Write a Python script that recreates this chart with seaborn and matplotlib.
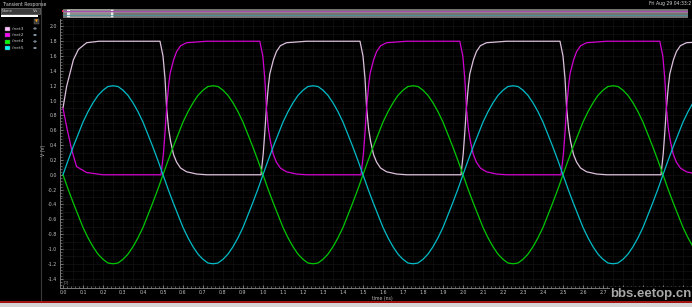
import numpy as np
import pandas as pd
import matplotlib
matplotlib.use("Agg")
import matplotlib.pyplot as plt
from matplotlib.ticker import MultipleLocator
from matplotlib.patches import Rectangle, Ellipse
from matplotlib.lines import Line2D
import seaborn as sns

# ---------------- data ----------------
t_sin = [0.000, 0.025, 0.050, 0.075, 0.100, 0.125, 0.150, 0.175, 0.200, 0.225,
         0.250, 0.275, 0.300, 0.325, 0.350, 0.375, 0.400, 0.425, 0.450, 0.475,
         0.500, 0.525, 0.550, 0.575, 0.600, 0.625, 0.650, 0.675, 0.700, 0.725,
         0.750, 0.775, 0.800, 0.825, 0.850, 0.875, 0.900, 0.925, 0.950, 0.975,
         1.000, 1.025, 1.050, 1.075, 1.100, 1.125, 1.150, 1.175, 1.200, 1.225,
         1.250, 1.275, 1.300, 1.325, 1.350, 1.375, 1.400, 1.425, 1.450, 1.475,
         1.500, 1.525, 1.550, 1.575, 1.600, 1.625, 1.650, 1.675, 1.700, 1.725,
         1.750, 1.775, 1.800, 1.825, 1.850, 1.875, 1.900, 1.925, 1.950, 1.975,
         2.000, 2.025, 2.050, 2.075, 2.100, 2.125, 2.150, 2.175, 2.200, 2.225,
         2.250, 2.275, 2.300, 2.325, 2.350, 2.375, 2.400, 2.425, 2.450, 2.475,
         2.500, 2.525, 2.550, 2.575, 2.600, 2.625, 2.650, 2.675, 2.700, 2.725,
         2.750, 2.775, 2.800, 2.825, 2.850, 2.875, 2.900, 2.925, 2.950, 2.975,
         3.000, 3.025, 3.050, 3.075, 3.100, 3.125, 3.150]
net5 = [0.00, 0.19, 0.37, 0.54, 0.71, 0.85, 0.97, 1.07, 1.14, 1.19,
        1.20, 1.19, 1.14, 1.07, 0.97, 0.85, 0.71, 0.54, 0.37, 0.19,
        0.00, -0.19, -0.37, -0.54, -0.71, -0.85, -0.97, -1.07, -1.14, -1.19,
        -1.20, -1.19, -1.14, -1.07, -0.97, -0.85, -0.71, -0.54, -0.37, -0.19,
        0.00, 0.19, 0.37, 0.54, 0.71, 0.85, 0.97, 1.07, 1.14, 1.19,
        1.20, 1.19, 1.14, 1.07, 0.97, 0.85, 0.71, 0.54, 0.37, 0.19,
        0.00, -0.19, -0.37, -0.54, -0.71, -0.85, -0.97, -1.07, -1.14, -1.19,
        -1.20, -1.19, -1.14, -1.07, -0.97, -0.85, -0.71, -0.54, -0.37, -0.19,
        0.00, 0.19, 0.37, 0.54, 0.71, 0.85, 0.97, 1.07, 1.14, 1.19,
        1.20, 1.19, 1.14, 1.07, 0.97, 0.85, 0.71, 0.54, 0.37, 0.19,
        0.00, -0.19, -0.37, -0.54, -0.71, -0.85, -0.97, -1.07, -1.14, -1.19,
        -1.20, -1.19, -1.14, -1.07, -0.97, -0.85, -0.71, -0.54, -0.37, -0.19,
        0.00, 0.19, 0.37, 0.54, 0.71, 0.85, 0.97]
net4 = [0.00, -0.19, -0.37, -0.54, -0.71, -0.85, -0.97, -1.07, -1.14, -1.19,
        -1.20, -1.19, -1.14, -1.07, -0.97, -0.85, -0.71, -0.54, -0.37, -0.19,
        0.00, 0.19, 0.37, 0.54, 0.71, 0.85, 0.97, 1.07, 1.14, 1.19,
        1.20, 1.19, 1.14, 1.07, 0.97, 0.85, 0.71, 0.54, 0.37, 0.19,
        0.00, -0.19, -0.37, -0.54, -0.71, -0.85, -0.97, -1.07, -1.14, -1.19,
        -1.20, -1.19, -1.14, -1.07, -0.97, -0.85, -0.71, -0.54, -0.37, -0.19,
        0.00, 0.19, 0.37, 0.54, 0.71, 0.85, 0.97, 1.07, 1.14, 1.19,
        1.20, 1.19, 1.14, 1.07, 0.97, 0.85, 0.71, 0.54, 0.37, 0.19,
        0.00, -0.19, -0.37, -0.54, -0.71, -0.85, -0.97, -1.07, -1.14, -1.19,
        -1.20, -1.19, -1.14, -1.07, -0.97, -0.85, -0.71, -0.54, -0.37, -0.19,
        0.00, 0.19, 0.37, 0.54, 0.71, 0.85, 0.97, 1.07, 1.14, 1.19,
        1.20, 1.19, 1.14, 1.07, 0.97, 0.85, 0.71, 0.54, 0.37, 0.19,
        0.00, -0.19, -0.37, -0.54, -0.71, -0.85, -0.97]

t_net3 = [0.000, 0.018, 0.035, 0.052, 0.077, 0.118, 0.180,
          0.485, 0.500, 0.510, 0.518, 0.528, 0.538, 0.553, 0.568, 0.588, 0.618, 0.668, 0.718,
          0.990, 1.001, 1.009, 1.017, 1.027, 1.034, 1.052, 1.067, 1.087, 1.117, 1.167, 1.217,
          1.485, 1.500, 1.510, 1.518, 1.528, 1.538, 1.553, 1.568, 1.588, 1.618, 1.668, 1.718,
          1.990, 2.001, 2.009, 2.017, 2.027, 2.034, 2.052, 2.067, 2.087, 2.117, 2.167, 2.217,
          2.485, 2.500, 2.510, 2.518, 2.528, 2.538, 2.553, 2.568, 2.588, 2.618, 2.668, 2.718,
          2.990, 3.001, 3.009, 3.017, 3.027, 3.034, 3.052, 3.067, 3.087, 3.117, 3.150]
net3 = [0.90, 1.19, 1.37, 1.55, 1.69, 1.78, 1.80,
        1.80, 1.60, 1.30, 0.90, 0.62, 0.45, 0.27, 0.17, 0.09, 0.04, 0.01, 0.00,
        0.00, 0.28, 0.57, 0.90, 1.20, 1.36, 1.55, 1.66, 1.74, 1.78, 1.79, 1.80,
        1.80, 1.60, 1.30, 0.90, 0.62, 0.45, 0.27, 0.17, 0.09, 0.04, 0.01, 0.00,
        0.00, 0.28, 0.57, 0.90, 1.20, 1.36, 1.55, 1.66, 1.74, 1.78, 1.79, 1.80,
        1.80, 1.60, 1.30, 0.90, 0.62, 0.45, 0.27, 0.17, 0.09, 0.04, 0.01, 0.00,
        0.00, 0.28, 0.57, 0.90, 1.20, 1.36, 1.55, 1.66, 1.74, 1.78, 1.785]

t_net2 = [0.000, 0.018, 0.043, 0.068, 0.118, 0.200,
          0.490, 0.502, 0.510, 0.518, 0.528, 0.535, 0.553, 0.568, 0.588, 0.618, 0.668, 0.718,
          0.984, 0.999, 1.009, 1.017, 1.027, 1.037, 1.052, 1.067, 1.087, 1.117, 1.167, 1.217,
          1.490, 1.502, 1.510, 1.518, 1.528, 1.535, 1.553, 1.568, 1.588, 1.618, 1.668, 1.718,
          1.984, 1.999, 2.009, 2.017, 2.027, 2.037, 2.052, 2.067, 2.087, 2.117, 2.167, 2.217,
          2.490, 2.502, 2.510, 2.518, 2.528, 2.535, 2.553, 2.568, 2.588, 2.618, 2.668, 2.718,
          2.984, 2.999, 3.009, 3.017, 3.027, 3.037, 3.052, 3.067, 3.087, 3.117, 3.150]
net2 = [0.90, 0.65, 0.34, 0.11, 0.03, 0.00,
        0.00, 0.28, 0.57, 0.90, 1.20, 1.36, 1.55, 1.66, 1.74, 1.78, 1.79, 1.80,
        1.80, 1.60, 1.30, 0.90, 0.62, 0.45, 0.27, 0.17, 0.09, 0.04, 0.01, 0.00,
        0.00, 0.28, 0.57, 0.90, 1.20, 1.36, 1.55, 1.66, 1.74, 1.78, 1.79, 1.80,
        1.80, 1.60, 1.30, 0.90, 0.62, 0.45, 0.27, 0.17, 0.09, 0.04, 0.01, 0.00,
        0.00, 0.28, 0.57, 0.90, 1.20, 1.36, 1.55, 1.66, 1.74, 1.78, 1.79, 1.80,
        1.80, 1.60, 1.30, 0.90, 0.62, 0.45, 0.27, 0.17, 0.09, 0.04, 0.02]

net_names = ["/net3", "/net2", "/net4", "/net5"]
line_colors = {"/net3": "#dcc0dc", "/net2": "#d000d0", "/net4": "#00c800", "/net5": "#00bcc8"}
swatch_colors = {"/net3": "#ffc0ff", "/net2": "#ff00ff", "/net4": "#00ff00", "/net5": "#00ffff"}
x_ticks = [0.0, 0.1, 0.2, 0.3, 0.4, 0.5, 0.6, 0.7, 0.8, 0.9, 1.0, 1.1, 1.2, 1.3, 1.4, 1.5,
           1.6, 1.7, 1.8, 1.9, 2.0, 2.1, 2.2, 2.3, 2.4, 2.5, 2.6, 2.7, 2.8, 2.9, 3.0, 3.1]
x_labels = ["0.0", "0.1", "0.2", "0.3", "0.4", "0.5", "0.6", "0.7", "0.8", "0.9", "1.0",
            "1.1", "1.2", "1.3", "1.4", "1.5", "1.6", "1.7", "1.8", "1.9", "2.0", "2.1",
            "2.2", "2.3", "2.4", "2.5", "2.6", "2.7", "", "", "", ""]
y_ticks = [-1.4, -1.2, -1.0, -0.8, -0.6, -0.4, -0.2, 0.0, 0.2, 0.4, 0.6, 0.8,
           1.0, 1.2, 1.4, 1.6, 1.8, 2.0]

df = pd.concat([
    pd.DataFrame({"t": t_net3, "v": net3, "net": "/net3"}),
    pd.DataFrame({"t": t_net2, "v": net2, "net": "/net2"}),
    pd.DataFrame({"t": t_sin, "v": net4, "net": "/net4"}),
    pd.DataFrame({"t": t_sin, "v": net5, "net": "/net5"}),
], ignore_index=True)

# ---------------- style ----------------
sns.set_theme(style="dark")
plt.rcParams.update({
    "figure.facecolor": "black",
    "axes.facecolor": "black",
    "savefig.facecolor": "black",
    "font.family": ["DejaVu Sans"],
})

W, H = 692, 307
fig = plt.figure(figsize=(W / 100, H / 100), dpi=100)


def fx(px):
    return px / W


def fy(py):
    return 1 - py / H


# background overlay for the left panel & frame (pixel coordinates)
bg = fig.add_axes([0, 0, 1, 1], zorder=0)
bg.set_xlim(0, W)
bg.set_ylim(H, 0)
bg.axis("off")

# left panel
bg.text(2, 4.5, "Transient Response", fontsize=3.3, color="#d0d0d0", va="center", ha="left")
bg.add_patch(Rectangle((0.5, 8), 39.5, 6, facecolor="#3c3c3c", edgecolor="#8a8a8a", lw=0.4))
bg.text(2, 11, "Name", fontsize=2.6, color="#c8c8c8", va="center", ha="left")
bg.text(33, 11, "Vis", fontsize=2.6, color="#c8c8c8", va="center", ha="left")
bg.add_patch(Rectangle((1, 15), 37, 1.6, facecolor="white", edgecolor="none"))
bg.add_patch(Rectangle((34, 19), 5, 5, facecolor="#3a3a3a", edgecolor="#707070", lw=0.3))
bg.text(36.5, 21.5, "▼", fontsize=2.8, color="#f0a020", va="center", ha="center")
rows_y = [28.5, 35, 41.5, 48]
for name, ry in zip(net_names, rows_y):
    bg.add_patch(Rectangle((5, ry - 2), 5, 4, facecolor=swatch_colors[name], edgecolor="#606060", lw=0.3))
    bg.text(12, ry, name, fontsize=3.2, color="#c8c8c8", va="center", ha="left")
    bg.add_patch(Ellipse((35, ry), 3.2, 2.0, facecolor="#a0b4c8", edgecolor="none"))
    bg.add_patch(Ellipse((35, ry), 1.0, 1.0, facecolor="#303030", edgecolor="none"))
bg.add_line(Line2D([41, 41], [0, 301], color="#3a3a3a", lw=0.8))

# top right date
bg.text(649, 4, "Fri Aug 29 04:33:2", fontsize=3.3, color="#d8d8d8", va="center", ha="left")

# bottom red line + gray strip
bg.add_patch(Rectangle((0, 303), W, 4, facecolor="#d4d4d4", edgecolor="none"))
bg.add_line(Line2D([0, W], [302, 302], color="#c01818", lw=1.2))

# y label / x label
bg.text(44, 150, "V (V)", fontsize=3.3, color="#b8b8b8", rotation=90, va="center", ha="center")
bg.text(382, 298.5, "time (ns)", fontsize=3.3, color="#b8b8b8", va="center", ha="center")

# ---------------- main plot ----------------
ax = fig.add_axes([fx(60), fy(287.5), fx(W - 60), (287.5 - 19) / H], zorder=1)
ax.set_facecolor("black")

# faint grid
for gx in np.arange(0.0, 3.15, 0.05):
    ax.axvline(gx, color="#131313", lw=0.5, zorder=0)
for gy in np.arange(-1.5, 2.11, 0.1):
    ax.axhline(gy, color="#131313", lw=0.5, zorder=0)

sns.lineplot(data=df, x="t", y="v", hue="net", palette=line_colors, hue_order=net_names,
             estimator=None, sort=False, linewidth=0.9, legend=False, ax=ax)

ax.set_xlim(-0.015, 3.145)
ax.set_ylim(-1.52, 2.10)
ax.set_xticks(x_ticks)
ax.set_xticklabels(x_labels)
ax.set_yticks(y_ticks)
ax.set_yticklabels([f"{v:.1f}" for v in y_ticks])
ax.xaxis.set_minor_locator(MultipleLocator(0.02))
ax.yaxis.set_minor_locator(MultipleLocator(0.04))
ax.set_xlabel("")
ax.set_ylabel("")
ax.tick_params(axis="both", which="both", colors="#a0a0a0", labelcolor="#c0c0c0",
               labelsize=3.4, direction="in")
ax.tick_params(axis="both", which="major", length=2.2, width=0.5, pad=2.0)
ax.tick_params(axis="both", which="minor", length=1.2, width=0.4)
ax.tick_params(axis="x", which="both", bottom=True)
ax.tick_params(axis="y", which="both", left=True)
for side in ["top", "right"]:
    ax.spines[side].set_visible(False)
for side in ["left", "bottom"]:
    ax.spines[side].set_color("#8a8a8a")
    ax.spines[side].set_linewidth(0.6)

# small icon bottom-left inside plot
ax.text(0.006, 0.012, "[D]", transform=ax.transAxes, fontsize=2.4, color="#a0a0a0",
        ha="left", va="bottom")

# ---------------- scrollbar at top ----------------
sb = fig.add_axes([fx(63), fy(17.5), fx(625), 9 / H], zorder=2)
sb.set_xlim(0, 625)
sb.set_ylim(0, 9)
sb.axis("off")
sb.add_patch(Rectangle((0, 0), 625, 9, facecolor="#747474", edgecolor="#a0a0a0", lw=0.4))
sb.add_line(Line2D([0, 625], [6.4, 6.4], color="#b048b0", lw=0.7))
sb.add_line(Line2D([0, 625], [5.4, 5.4], color="#a890a8", lw=0.4))
sb.add_line(Line2D([0, 625], [3.0, 3.0], color="#3a9aa0", lw=0.5))
sb.add_patch(Rectangle((4, 0.3), 46, 8.4, facecolor="#c8c8c8", alpha=0.3, edgecolor="#f0f0f0", lw=0.6))
sb.add_patch(Rectangle((4, 1), 2.5, 7, facecolor="#e8e8e8", edgecolor="none"))
sb.add_patch(Rectangle((47.5, 1), 2.5, 7, facecolor="#e8e8e8", edgecolor="none"))
bg.add_patch(Rectangle((62, 10), 2, 2, facecolor="#e02020", edgecolor="none", zorder=5))

# watermark
fig.text(fx(651), fy(294), "bbs.eetop.cn", fontsize=9.5, fontweight="bold",
         family=["Liberation Sans", "DejaVu Sans"], color="#a8a8a8",
         ha="center", va="center", zorder=10,
         bbox=dict(facecolor="black", edgecolor="none", pad=0.6))

fig.savefig("out.png", dpi=100)
